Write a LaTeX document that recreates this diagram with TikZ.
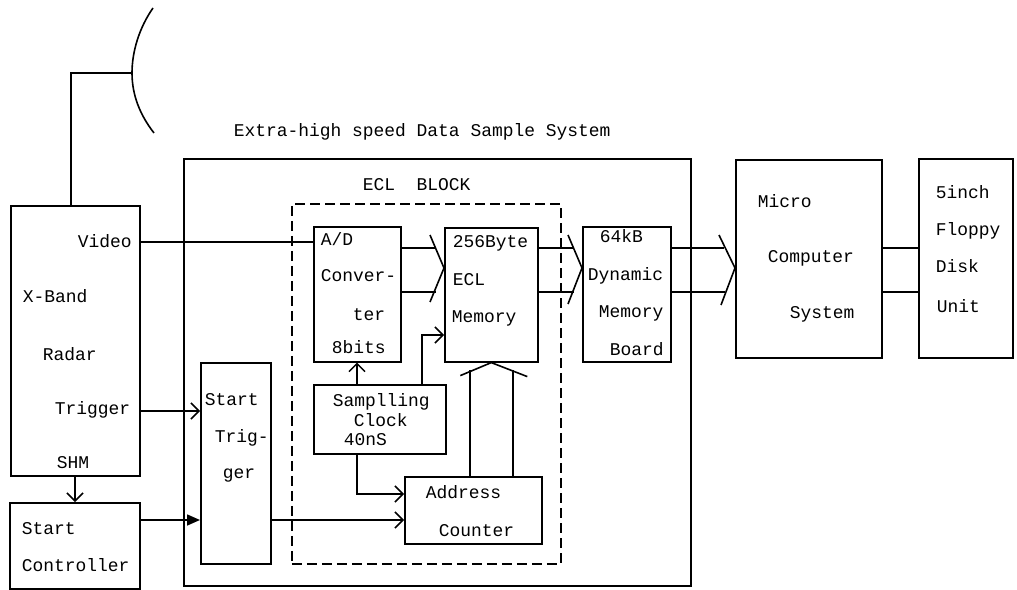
\documentclass[tikz,border=0pt]{standalone}
\usepackage{fontspec}
\newfontfamily\codefont{Liberation Mono}
\usetikzlibrary{arrows.meta}
\begin{document}
\begin{tikzpicture}[x=1bp,y=-1bp, line width=1.6bp,
  blk/.style={draw, inner sep=0pt, anchor=north west},
  lbl/.style={font=\codefont\fontsize{18}{20}\selectfont, inner sep=0pt, anchor=base west},
  sig/.style={-{Straight Barb[length=8bp,width=16bp,line width=1.5bp]}},
  fsig/.style={-{Triangle[length=13bp,width=11bp]}},
  eclbox/.style={blk, dash pattern=on 10bp off 5bp},
]
\useasboundingbox (0,0) rectangle (1017,590);

% ---- blocks ----
\node[blk, minimum width=129bp, minimum height=270bp] (radar) at (10,205) {};
\node[blk, minimum width=130bp, minimum height=86bp]  (ctrl)  at (9,502) {};
\node[blk, minimum width=507bp, minimum height=427bp] (sys)   at (183,158) {};
\node[blk, minimum width=70bp,  minimum height=201bp] (strig) at (200,362) {};
\node[eclbox, minimum width=269bp, minimum height=360bp] (ecl) at (291,203) {};
\node[blk, minimum width=87bp,  minimum height=135bp] (adc)   at (313,226) {};
\node[blk, minimum width=93bp,  minimum height=134bp] (mem)   at (444,227) {};
\node[blk, minimum width=88bp,  minimum height=135bp] (dmb)   at (582,226) {};
\node[blk, minimum width=132bp, minimum height=69bp]  (clk)   at (313,384) {};
\node[blk, minimum width=137bp, minimum height=67bp]  (addr)  at (404,476) {};
\node[blk, minimum width=146bp, minimum height=198bp] (micro) at (735,159) {};
\node[blk, minimum width=94bp,  minimum height=199bp] (fdd)   at (918,158) {};

% ---- antenna ----
\coordinate (feed) at (132,73);
\draw (153,8) .. controls (139,28) and (132,52) .. (feed)
      .. controls (132,95) and (140,115) .. (154,133);
\draw (radar.north -| 71,0) |- (feed);

% ---- labels ----
\node[lbl] (title) at (233,137) {Extra-high speed Data Sample System};
\node[lbl] (ecltitle) at (362,191) {ECL\ \ BLOCK};

\node[lbl] (rv) at (77,248) {Video};
\node[lbl] (rx) at (22,303) {X-Band};
\node[lbl] (rr) at (42,360) {Radar};
\node[lbl] (rt) at (54,414) {Trigger};
\node[lbl] (rs) at (56,468) {SHM};

\node[lbl] (c1) at (21,534) {Start};
\node[lbl] (c2) at (21,571) {Controller};

\node[lbl] (s1) at (204,405) {Start};
\node[lbl] (s2) at (214,442) {Trig-};
\node[lbl] (s3) at (222,478) {ger};

\node[lbl] (a1) at (320,246) {A/D};
\node[lbl] (a2) at (320,282) {Conver-};
\node[lbl] (a3) at (352,320) {ter};
\node[lbl] (a4) at (331,353) {8bits};

\node[lbl] (m1) at (452,248) {256Byte};
\node[lbl] (m2) at (452,286) {ECL};
\node[lbl] (m3) at (451,322) {Memory};

\node[lbl] (d1) at (599,243) {64kB};
\node[lbl] (d2) at (587,281) {Dynamic};
\node[lbl] (d3) at (598,317) {Memory};
\node[lbl] (d4) at (609,355) {Board};

\node[lbl] (k1) at (332,406) {Samplling};
\node[lbl] (k2) at (353,426) {Clock};
\node[lbl] (k3) at (343,445) {40nS};

\node[lbl] (n1) at (425,498) {Address};
\node[lbl] (n2) at (438,536) {Counter};

\node[lbl] (p1) at (757,208) {Micro};
\node[lbl] (p2) at (767,263) {Computer};
\node[lbl] (p3) at (789,318) {System};

\node[lbl] (f1) at (935,199) {5inch};
\node[lbl] (f2) at (935,236) {Floppy};
\node[lbl] (f3) at (935,273) {Disk};
\node[lbl] (f4) at (936,312) {Unit};

% ---- signal lines ----
\coordinate (vidport) at (313,242);
\draw (radar.east |- vidport) -- (vidport);
\draw[sig] (radar.east |- 0,411) -- (strig.west |- 0,411);
\draw[fsig] (ctrl.east |- 0,520) -- (strig.west |- 0,520);
\draw[sig] (radar.south -| 75,0) -- (ctrl.north -| 75,0);
\draw[sig] (strig.east |- 0,520) -- (addr.west |- 0,520);

\draw[sig] (clk.north -| 357,0) -- (adc.south -| 357,0);
\draw[sig] (clk.north -| 422,0) |- (mem.west |- 0,335);
\draw[sig] (clk.south -| 357,0) |- (addr.west |- 0,494);

% ---- buses ----
\draw (adc.east |- 0,248) -- (436,248);
\draw (adc.east |- 0,292) -- (436,292);
\draw (mem.west |- 0,268) ++(-14,-33) -- ++(14,33) -- ++(-14,34);

\draw (mem.east |- 0,248) -- (574,248);
\draw (mem.east |- 0,292) -- (574,292);
\draw (dmb.west |- 0,268) ++(-14,-33) -- ++(14,33) -- ++(-14,36);

\draw (dmb.east |- 0,248) -- (724,248);
\draw (dmb.east |- 0,292) -- (725,292);
\draw (micro.west |- 0,268) ++(-16,-33) -- ++(16,33) -- ++(-14,37);

\draw (470,0 |- addr.north) -- (470,370);
\draw (513,0 |- addr.north) -- (513,370);
\draw (mem.south) ++(-31,13) -- ++(31,-13) -- ++(36,14);

\draw (micro.east |- 0,248) -- (fdd.west |- 0,248);
\draw (micro.east |- 0,292) -- (fdd.west |- 0,292);
\end{tikzpicture}
\end{document}
